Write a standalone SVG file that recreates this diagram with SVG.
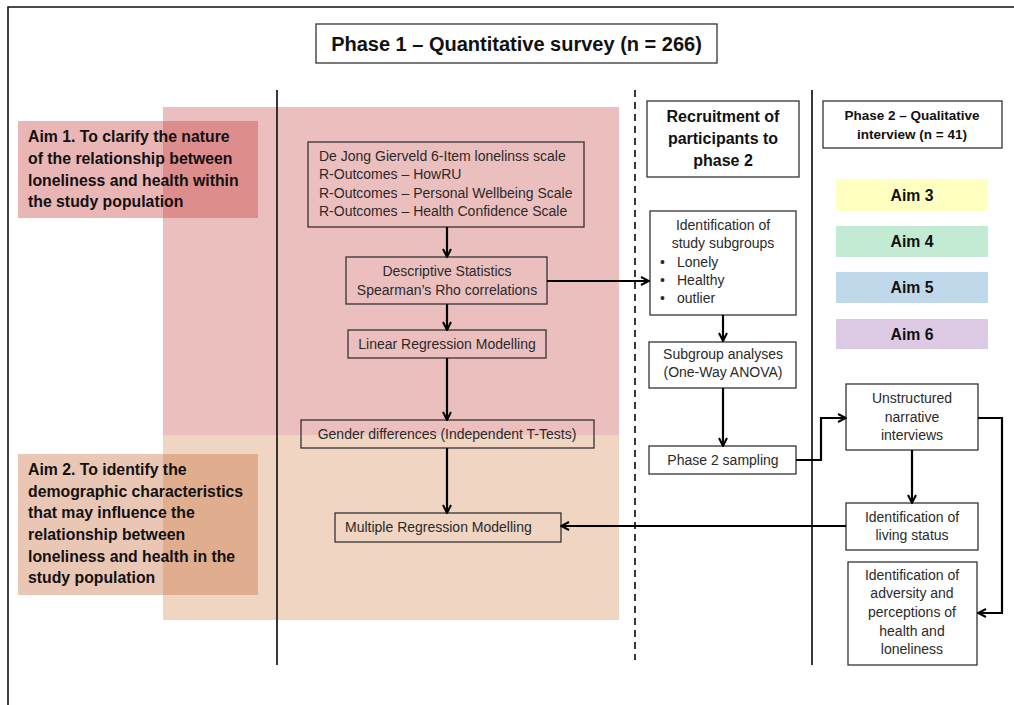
<svg xmlns="http://www.w3.org/2000/svg" width="1014" height="705" viewBox="0 0 1014 705">
<defs>
<style>
.frame{stroke:#111;stroke-width:1.6;fill:none}
.sep{stroke:#222;stroke-width:1.8;fill:none}
.dash{stroke:#222;stroke-width:1.8;fill:none;stroke-dasharray:7,5}
.box{fill:none;stroke:#333;stroke-width:1.3}
.wbox{fill:#fff;stroke:#333;stroke-width:1.3}
.t{font-family:"Liberation Sans",Arial,sans-serif;font-size:14px;fill:#2a2a2a}
.c{text-anchor:middle}
.b{font-family:"Liberation Sans",Arial,sans-serif;font-weight:bold;fill:#111}
.aim{font-size:15.8px}
.conn path{fill:none;stroke:#000;stroke-width:2.2}
</style>
<marker id="ah" viewBox="0 0 10 10" refX="9" refY="5" markerWidth="10" markerHeight="10" markerUnits="userSpaceOnUse" orient="auto">
<path d="M1,1 L9,5 L1,9" fill="none" stroke="#000" stroke-width="2"/>
</marker>
</defs>
<rect x="0" y="0" width="1014" height="705" fill="#fff"/>
<path class="frame" d="M8,705 V7 H1014"/>

<g id="regions">
<rect x="163" y="107" width="456" height="328" fill="#d05f5f" fill-opacity="0.4"/>
<rect x="163" y="435" width="456" height="185" fill="#d79667" fill-opacity="0.4"/>
</g>

<g id="aim1">
<rect x="18" y="121" width="240" height="97" fill="#c83c3c" fill-opacity="0.38"/>
<text class="b aim" x="28" y="142">Aim 1. To clarify the nature</text>
<text class="b aim" x="28" y="164">of the relationship between</text>
<text class="b aim" x="28" y="186">loneliness and health within</text>
<text class="b aim" x="28" y="207">the study population</text>
</g>

<g id="aim2">
<rect x="18" y="454" width="240" height="141" fill="#c86d3c" fill-opacity="0.38"/>
<text class="b aim" x="28" y="475">Aim 2. To identify the</text>
<text class="b aim" x="28" y="497">demographic characteristics</text>
<text class="b aim" x="28" y="518">that may influence the</text>
<text class="b aim" x="28" y="540">relationship between</text>
<text class="b aim" x="28" y="562">loneliness and health in the</text>
<text class="b aim" x="28" y="583">study population</text>
</g>

<g id="separators">
<line class="sep" x1="277" y1="90" x2="277" y2="665"/>
<line class="dash" x1="635" y1="90" x2="635" y2="660"/>
<line class="sep" x1="812" y1="90" x2="812" y2="665"/>
</g>

<g id="title">
<rect x="316" y="24" width="401" height="39" fill="#fff" stroke="#333" stroke-width="1.3"/>
<text class="b c" x="516.5" y="51" style="font-size:20px">Phase 1 – Quantitative survey (n = 266)</text>
</g>

<g id="measures">
<rect class="box" x="308" y="142" width="276" height="85"/>
<text class="t" x="319" y="161">De Jong Gierveld 6-Item lonelinss scale</text>
<text class="t" x="319" y="179">R-Outcomes – HowRU</text>
<text class="t" x="319" y="198">R-Outcomes – Personal Wellbeing Scale</text>
<text class="t" x="319" y="216">R-Outcomes – Health Confidence Scale</text>
</g>

<g id="descriptive">
<rect class="box" x="346" y="257" width="201" height="47"/>
<text class="t c" x="447" y="276">Descriptive Statistics</text>
<text class="t c" x="447" y="295">Spearman’s Rho correlations</text>
</g>

<g id="linear">
<rect class="box" x="348" y="330" width="198" height="28"/>
<text class="t c" x="447" y="349">Linear Regression Modelling</text>
</g>

<g id="gender">
<rect class="box" x="301" y="420" width="293" height="28"/>
<text class="t c" x="447" y="439">Gender differences (Independent T-Tests)</text>
</g>

<g id="multiple">
<rect class="box" x="335" y="513" width="226" height="29"/>
<text class="t" x="345" y="532">Multiple Regression Modelling</text>
</g>

<g id="recruitment">
<rect class="wbox" x="647" y="101" width="152" height="76"/>
<text class="b c" x="723" y="122" style="font-size:16px">Recruitment of</text>
<text class="b c" x="723" y="144" style="font-size:16px">participants to</text>
<text class="b c" x="723" y="166" style="font-size:16px">phase 2</text>
</g>

<g id="phase2">
<rect class="wbox" x="823" y="101" width="179" height="47"/>
<text class="b c" x="912" y="120" style="font-size:13.5px">Phase 2 – Qualitative</text>
<text class="b c" x="912" y="139" style="font-size:13.5px">interview (n = 41)</text>
</g>

<g id="aim3">
<rect x="836" y="179" width="152" height="32" fill="#ffffc2"/>
<text class="b c aim" x="912" y="201">Aim 3</text>
</g>
<g id="aim4">
<rect x="836" y="226" width="152" height="31" fill="#c3ead3"/>
<text class="b c aim" x="912" y="247">Aim 4</text>
</g>
<g id="aim5">
<rect x="836" y="272" width="152" height="31" fill="#bfd9eb"/>
<text class="b c aim" x="912" y="293">Aim 5</text>
</g>
<g id="aim6">
<rect x="836" y="319" width="152" height="30" fill="#dccae4"/>
<text class="b c aim" x="912" y="340">Aim 6</text>
</g>

<g id="subgroups">
<rect class="wbox" x="650" y="211" width="146" height="104"/>
<text class="t c" x="723" y="230">Identification of</text>
<text class="t c" x="723" y="248">study subgroups</text>
<text class="t" x="660" y="267">•</text><text class="t" x="677" y="267">Lonely</text>
<text class="t" x="660" y="285">•</text><text class="t" x="677" y="285">Healthy</text>
<text class="t" x="660" y="303">•</text><text class="t" x="677" y="303">outlier</text>
</g>

<g id="subgroupanalyses">
<rect class="wbox" x="649" y="342" width="147" height="46"/>
<text class="t c" x="723" y="359">Subgroup analyses</text>
<text class="t c" x="723" y="377">(One-Way ANOVA)</text>
</g>

<g id="sampling">
<rect class="wbox" x="649" y="446" width="147" height="28"/>
<text class="t c" x="723" y="465">Phase 2 sampling</text>
</g>

<g id="unstructured">
<rect class="wbox" x="846" y="384" width="132" height="66"/>
<text class="t c" x="912" y="403">Unstructured</text>
<text class="t c" x="912" y="422">narrative</text>
<text class="t c" x="912" y="440">interviews</text>
</g>

<g id="living">
<rect class="wbox" x="846" y="503" width="132" height="47"/>
<text class="t c" x="912" y="522">Identification of</text>
<text class="t c" x="912" y="540">living status</text>
</g>

<g id="adversity">
<rect class="wbox" x="848" y="562" width="129" height="103"/>
<text class="t c" x="912" y="580">Identification of</text>
<text class="t c" x="912" y="598">adversity and</text>
<text class="t c" x="912" y="617">perceptions of</text>
<text class="t c" x="912" y="636">health and</text>
<text class="t c" x="912" y="654">loneliness</text>
</g>

<g class="conn" id="connectors">
<path d="M447,227 V257" marker-end="url(#ah)"/>
<path d="M447,304 V330" marker-end="url(#ah)"/>
<path d="M447,358 V420" marker-end="url(#ah)"/>
<path d="M447,448 V513" marker-end="url(#ah)"/>
<path d="M547,281 H649" marker-end="url(#ah)"/>
<path d="M723,315 V341" marker-end="url(#ah)"/>
<path d="M723,388 V446" marker-end="url(#ah)"/>
<path d="M796,460 H821 V418 H846" marker-end="url(#ah)"/>
<path d="M912,450 V503" marker-end="url(#ah)"/>
<path d="M846,526 H561" marker-end="url(#ah)"/>
<path d="M978,418 H1002 V613 H978" marker-end="url(#ah)"/>
</g>
</svg>
